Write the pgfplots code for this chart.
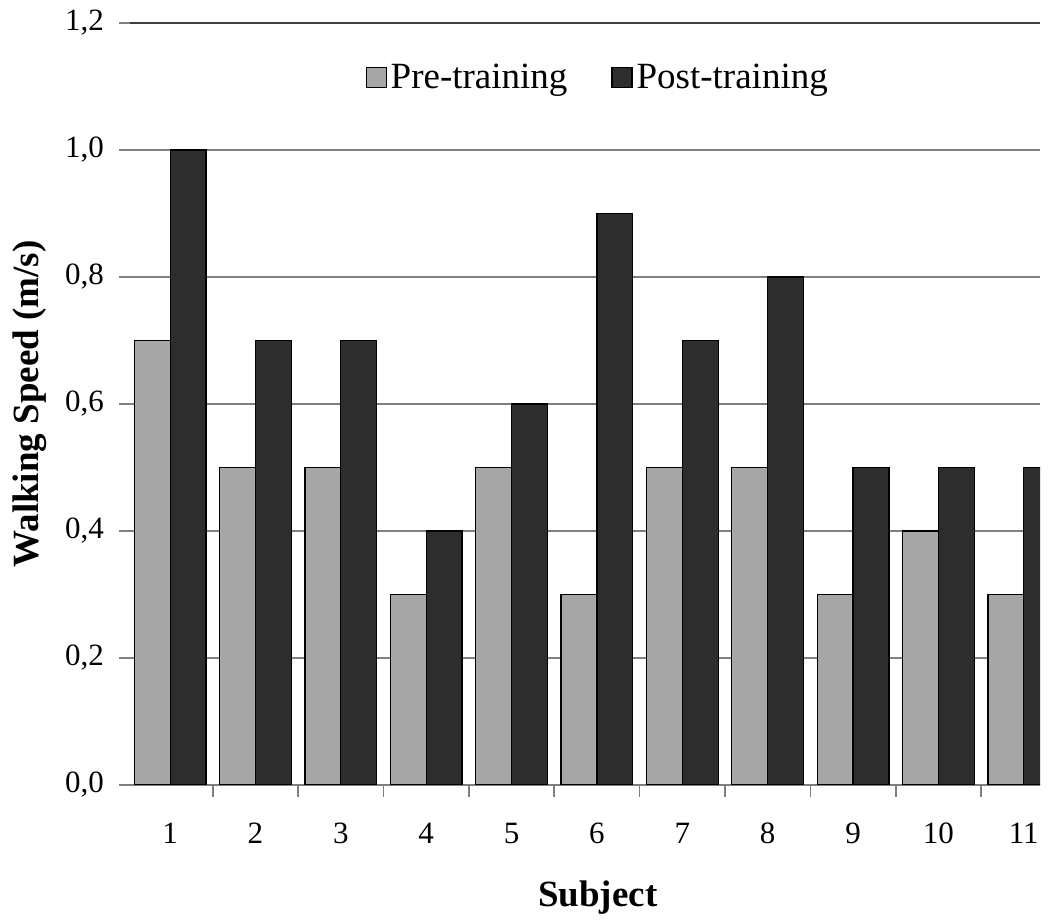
\documentclass[border=0pt]{standalone}
\usepackage{pgfplots}
\pgfplotsset{compat=1.18}
\usepackage{fontspec}
\setmainfont{Liberation Serif}
\definecolor{pre}{HTML}{A6A6A6}
\definecolor{post}{HTML}{2D2D2D}
\begin{document}
\begin{tikzpicture}
\begin{axis}[
  at={(0,0)}, anchor=south west,
  scale only axis, width=455pt, height=381pt,
  xmin=-0.47, xmax=10.19, ymin=0, ymax=1.2,
  axis x line*=bottom, axis y line*=left,
  x axis line style={black!50, line width=0.8pt, -},
  y axis line style={draw=none},
  tick align=outside,
  major tick length=5.5pt,
  minor tick length=6pt,
  ytick={0,0.2,0.4,0.6,0.8,1.0},
  extra y ticks={1.2},
  extra y tick style={grid style={black!75, line width=1.2pt}},
  ymajorgrids,
  grid style={black!50, line width=0.8pt},
  every major y tick/.append style={black!50, line width=0.8pt},
  xtick={0,1,2,3,4,5,6,7,8,9,10},
  xticklabels={1,2,3,4,5,6,7,8,9,10,11},
  minor xtick={0.5,1.5,2.5,3.5,4.5,5.5,6.5,7.5,8.5,9.5},
  every major x tick/.append style={draw=none},
  every minor x tick/.append style={black!50, line width=0.8pt},
  yticklabel={\pgfmathprintnumber[fixed,fixed zerofill,precision=1,use comma,assume math mode=true]{\tick}},
  tick label style={font=\fontsize{15.5}{18}\selectfont},
  xticklabel style={text height=11pt, text depth=0pt, anchor=north, yshift=-9pt},
  yticklabel style={xshift=-4pt},
  xlabel={Subject},
  ylabel={Walking Speed (m/s)},
  label style={font=\fontsize{18.5}{22}\selectfont\bfseries},
  xlabel style={at={(axis description cs:0.514,-0.148)}, anchor=center},
  ylabel style={at={(axis description cs:-0.11,0.5)}, anchor=center},
  legend style={at={(axis description cs:0.515,0.928)}, anchor=center, draw=none, fill=none,
    font=\fontsize{18.5}{22}\selectfont,
    /tikz/every even column/.append style={column sep=20pt}},
  legend columns=2,
  legend image code/.code={\draw[#1, draw=black, line width=0.6pt] (0pt,-5pt) rectangle (10pt,5pt);},
]
\addplot[ybar, bar width=0.42, bar shift=-0.21, fill=pre, draw=black, line width=0.6pt]
  coordinates {(0,0.7) (1,0.5) (2,0.5) (3,0.3) (4,0.5) (5,0.3) (6,0.5) (7,0.5) (8,0.3) (9,0.4) (10,0.3)};
\addlegendentry{Pre-training}
\addplot[ybar, bar width=0.42, bar shift=0.21, fill=post, draw=black, line width=0.6pt]
  coordinates {(0,1.0) (1,0.7) (2,0.7) (3,0.4) (4,0.6) (5,0.9) (6,0.7) (7,0.8) (8,0.5) (9,0.5) (10,0.5)};
\addlegendentry{Post-training}
\end{axis}
\pgfresetboundingbox
\path (-65pt,-69.5pt) rectangle (460pt,392.5pt);
\end{tikzpicture}
\end{document}
